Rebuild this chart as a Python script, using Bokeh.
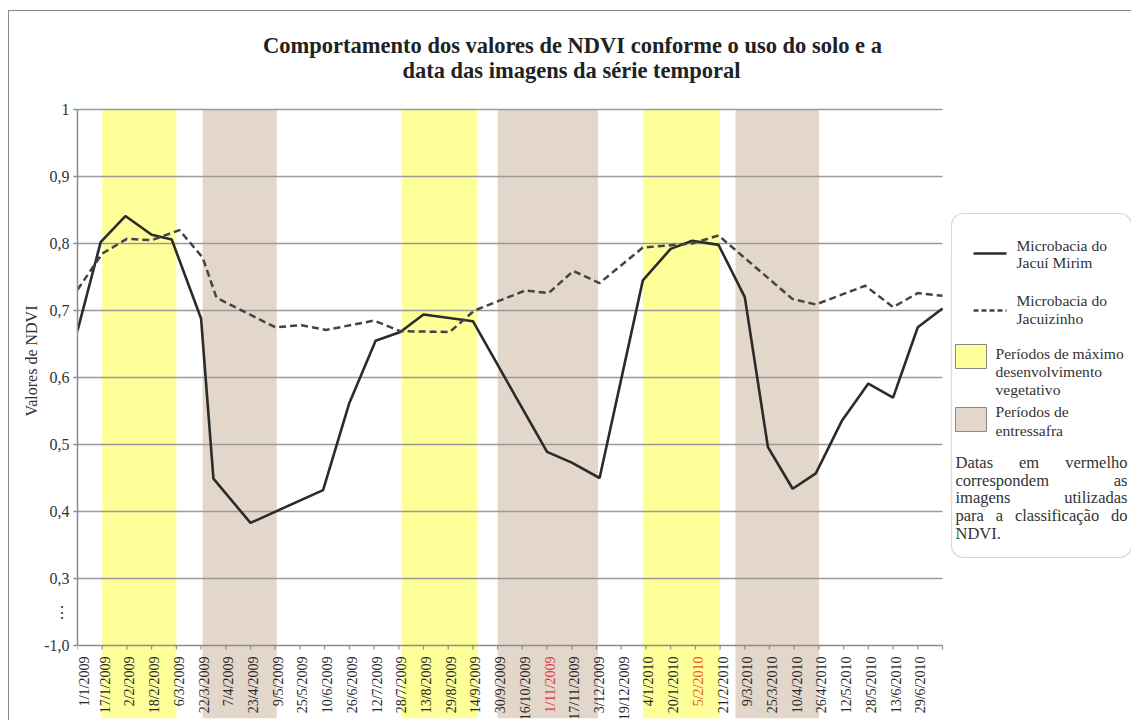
import math
from bokeh.plotting import figure
from bokeh.models import FixedTicker, BoxAnnotation, Range1d, Title
from bokeh.core.properties import value
from bokeh.embed import file_html
from bokeh.resources import INLINE

FONT = "Liberation Serif, Times New Roman, Times, serif"

# ---------------- data ----------------
date_labels = ["1/1/2009", "17/1/2009", "2/2/2009", "18/2/2009", "6/3/2009", "22/3/2009",
               "7/4/2009", "23/4/2009", "9/5/2009", "25/5/2009", "10/6/2009", "26/6/2009",
               "12/7/2009", "28/7/2009", "13/8/2009", "29/8/2009", "14/9/2009", "30/9/2009",
               "16/10/2009", "1/11/2009", "17/11/2009", "3/12/2009", "19/12/2009", "4/1/2010",
               "20/1/2010", "5/2/2010", "21/2/2010", "9/3/2010", "25/3/2010", "10/4/2010",
               "26/4/2010", "12/5/2010", "28/5/2010", "13/6/2010", "29/6/2010"]
red_dates = {"1/11/2009": "#e0393a", "5/2/2010": "#e2581f"}
# day offsets (from 1/1/2009) of the 16-day axis ticks (last tick unlabelled)
tick_days = [16 * i for i in range(len(date_labels) + 1)]

# Microbacia do Jacuí Mirim (solid)
mirim_days = [0, 15, 31, 48, 61, 80, 88, 112, 159, 176, 193, 209, 224, 256, 304, 320,
              338, 366, 384, 398, 415, 432, 447, 463, 478, 495, 512, 528, 544, 560]
mirim_ndvi = [0.670, 0.802, 0.841, 0.813, 0.806, 0.688, 0.449, 0.383, 0.432, 0.562, 0.655,
              0.668, 0.694, 0.684, 0.489, 0.473, 0.450, 0.745, 0.792, 0.804, 0.798, 0.720,
              0.496, 0.434, 0.457, 0.536, 0.591, 0.570, 0.675, 0.703]

# Microbacia do Jacuizinho (dashed)
jacui_days = [0, 16, 32, 48, 66, 81, 90, 128, 145, 161, 192, 209, 241, 257, 290, 305,
              321, 338, 366, 398, 415, 463, 478, 510, 528, 544, 560]
jacui_ndvi = [0.731, 0.785, 0.807, 0.805, 0.820, 0.779, 0.719, 0.675, 0.678, 0.671, 0.685,
              0.669, 0.668, 0.700, 0.730, 0.726, 0.759, 0.741, 0.794, 0.800, 0.812, 0.717,
              0.709, 0.737, 0.705, 0.726, 0.722]

# periods (days)
max_start = [16, 210, 366]
max_end = [64, 259, 416]
entre_start = [81, 272, 426]
entre_end = [129, 337, 480]

y_ticks = [0.2, 0.3, 0.4, 0.5, 0.6, 0.7, 0.8, 0.9, 1.0]
y_tick_text = ["-1,0", "0,3", "0,4", "0,5", "0,6", "0,7", "0,8", "0,9", "1"]
axis_break = 0.25

TITLE1 = "Comportamento dos valores de NDVI conforme o uso do solo e a"
TITLE2 = "data das imagens da série temporal"

# ---------------- layout (page pixels) ----------------
W, H = 1123, 710
X0, Y0 = 9, 11                # canvas origin on the page (css margin + border)
FL, FT, FB = 77, 109, 718     # plot-area left, value-1.0 line, band bottom (page px)
ML = FL - X0
MB = (Y0 + H) - FB
PX_DAY = 24.714 / 16.0
PX_UNIT = 670.0


def dx(px):
    return (px - FL) / PX_DAY


def dy(py):
    return 1.0 - (py - FT) / PX_UNIT


x_end = dx(X0 + W)
y_top = dy(Y0)
y_bot = dy(FB)

p = figure(width=W, height=H, x_range=Range1d(0, x_end), y_range=Range1d(y_bot, y_top),
           output_backend="svg", toolbar_location=None, x_axis_location=None,
           min_border_left=ML, min_border_top=0, min_border_right=0, min_border_bottom=MB)
p.styles = {"margin-left": "8px", "margin-top": "10px",
            "border-top": "1px solid #8a8a8a", "border-left": "1px solid #8a8a8a"}
p.outline_line_color = None
p.background_fill_color = "white"
p.border_fill_color = "white"
p.xgrid.visible = False
p.ygrid.visible = False

ax = p.yaxis[0]
ax.ticker = FixedTicker(ticks=y_ticks + [axis_break], minor_ticks=y_ticks)
overrides = dict(zip(y_ticks, y_tick_text))
overrides[axis_break] = "⋮"
ax.major_label_overrides = overrides
ax.bounds = (y_ticks[0], y_ticks[-1])
ax.axis_line_color = "#8c8c8c"
ax.axis_line_width = 1.5
ax.major_tick_line_color = None
ax.minor_tick_line_color = "#8c8c8c"
ax.minor_tick_line_width = 1.5
ax.minor_tick_out = 4
ax.minor_tick_in = 0
ax.major_tick_out = 4
ax.major_tick_in = 0
ax.major_label_standoff = 4
ax.major_label_text_font = FONT
ax.major_label_text_font_size = "16px"
ax.major_label_text_color = "#333333"

# y axis title (left side, ending at the 0.7 level like the reference)
p.add_layout(Title(text="Valores de NDVI", align="right", offset=305 - Y0,
                   text_font=FONT, text_font_size="16px", text_font_style="normal",
                   text_color="#333333", standoff=4), "left")

# period bands
p.quad(left=max_start, right=max_end, bottom=y_bot, top=y_ticks[-1],
       fill_color="#FFFF99", line_color=None)
p.quad(left=entre_start, right=entre_end, bottom=y_bot, top=y_ticks[-1],
       fill_color="#E3D6CB", line_color=None)

# horizontal grid lines
grid_y = y_ticks[1:]
p.segment(x0=[tick_days[0]] * len(grid_y), x1=[tick_days[-1]] * len(grid_y),
          y0=grid_y, y1=grid_y, line_color="#9a9a9a", line_width=1.5)

# bottom axis line, ticks and date labels
p.segment(x0=[tick_days[0]], x1=[tick_days[-1]], y0=[y_ticks[0]], y1=[y_ticks[0]],
          line_color="#8c8c8c", line_width=1.5)
tick_len = 4 / PX_UNIT
p.segment(x0=tick_days, x1=tick_days, y0=[y_ticks[0]] * len(tick_days),
          y1=[y_ticks[0] - tick_len] * len(tick_days), line_color="#8c8c8c", line_width=1.2)
label_colors = [red_dates.get(d, "#262626") for d in date_labels]
label_dx = [7 if i == 0 else 3 for i in range(len(date_labels))]  # keep first one inside
p.text(x=tick_days[:len(date_labels)], y=[y_ticks[0]] * len(date_labels), text=date_labels,
       angle=math.pi / 2, text_align="right", text_baseline="middle", x_offset=label_dx,
       y_offset=11, text_font=value(FONT), text_font_size="14px", text_color=label_colors)

# series
p.line(mirim_days, mirim_ndvi, line_color="#2b2b2b", line_width=2.6)
p.line(jacui_days, jacui_ndvi, line_color="#444444", line_width=2.5, line_dash="7 4")

# ---------------- chart title ----------------
p.text(x=[dx(572), dx(571)], y=[dy(45), dy(70)], text=[TITLE1, TITLE2],
       text_align="center", text_baseline="middle", text_font=value(FONT),
       text_font_size="22.5px", text_font_style="bold", text_color="#222222")

# ---------------- legend ----------------
p.add_layout(BoxAnnotation(left=dx(951), right=dx(1131), top=dy(213), bottom=dy(557),
                           fill_color="white", fill_alpha=1.0, line_color="#7a7a7a",
                           line_width=1.2, border_radius=12, level="annotation"))
p.line([dx(973), dx(1006)], [dy(253)] * 2, line_color="#2b2b2b", line_width=2.6, level="overlay")
p.line([dx(973), dx(1006)], [dy(310)] * 2, line_color="#444444", line_width=2.5,
       line_dash="5 3", level="overlay")
p.quad(left=[dx(955)], right=[dx(986)], top=[dy(344)], bottom=[dy(368)],
       fill_color="#FFFF99", line_color="#8a8a8a", line_width=1, level="overlay")
p.quad(left=[dx(955)], right=[dx(986)], top=[dy(407)], bottom=[dy(431)],
       fill_color="#E3D6CB", line_color="#8a8a8a", line_width=1, level="overlay")

leg_text = ["Microbacia do", "Jacuí Mirim", "Microbacia do", "Jacuizinho",
            "Períodos de máximo", "desenvolvimento", "vegetativo", "Períodos de", "entressafra"]
leg_px = [1016, 1016, 1016, 1016, 995, 995, 995, 995, 995]
leg_py = [245, 262, 300, 318, 353, 371, 389, 411, 430]
p.text(x=[dx(v) for v in leg_px], y=[dy(v) for v in leg_py], text=leg_text,
       text_align="left", text_baseline="middle", text_font=value(FONT),
       text_font_size="15.6px", text_color="#333333", level="overlay")

# justified note
W1000 = {"a": 444, "b": 500, "c": 444, "d": 500, "e": 444, "f": 333, "g": 500, "h": 500,
         "i": 278, "j": 278, "l": 278, "m": 778, "n": 500, "o": 500, "p": 500, "r": 333,
         "s": 389, "t": 278, "u": 500, "v": 500, "z": 444, "ç": 444, "ã": 444, "D": 722,
         "N": 722, "V": 722, "I": 333, ".": 250}
NOTE_SIZE = 16.5


def word_w(w):
    return sum(W1000.get(c, 500) for c in w) / 1000.0 * NOTE_SIZE


note_lines = ["Datas em vermelho", "correspondem as", "imagens utilizadas",
              "para a classificação do", "NDVI."]
note_py = [462, 480, 497, 515, 533]
nx, ny, nt = [], [], []
left_px, right_px = 955, 1127
for i, (line, py) in enumerate(zip(note_lines, note_py)):
    words = line.split(" ")
    if i == len(note_lines) - 1 or len(words) == 1:
        pos = [left_px]
        for w in words[:-1]:
            pos.append(pos[-1] + word_w(w) + 0.25 * NOTE_SIZE)
    else:
        total = sum(word_w(w) for w in words)
        gap = (right_px - left_px - total) / (len(words) - 1)
        pos = [left_px]
        for w in words[:-1]:
            pos.append(pos[-1] + word_w(w) + gap)
    for w, x in zip(words, pos):
        nx.append(dx(x))
        ny.append(dy(py))
        nt.append(w)
p.text(x=nx, y=ny, text=nt, text_align="left", text_baseline="middle",
       text_font=value(FONT), text_font_size=f"{NOTE_SIZE}px", text_color="#333333",
       level="overlay")

open("out.html", "w").write(file_html(p, INLINE))
